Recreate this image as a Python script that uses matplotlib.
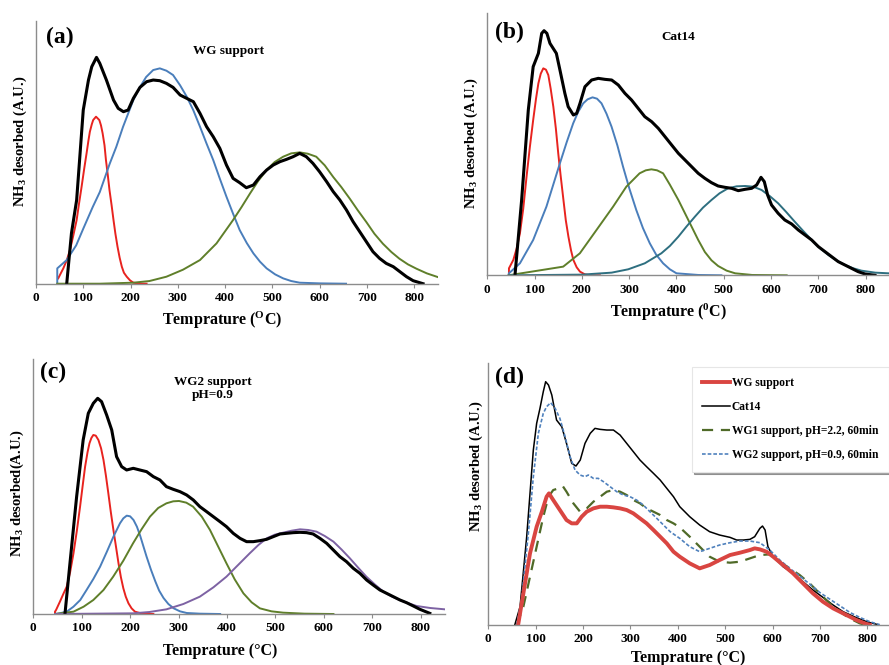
import matplotlib
matplotlib.use('Agg')
import matplotlib.pyplot as plt

plt.rcParams['font.family'] = ['Liberation Serif', 'DejaVu Serif']
plt.rcParams['font.weight'] = 'bold'
plt.rcParams['mathtext.fontset'] = 'custom'
plt.rcParams['mathtext.rm'] = 'Liberation Serif:bold'
plt.rcParams['mathtext.bf'] = 'Liberation Serif:bold'
plt.rcParams['mathtext.it'] = 'Liberation Serif:italic:bold'

# ---------------- Panel (a): WG support ----------------
a_black_T = [65, 75, 86, 100, 111, 118, 128, 135, 149, 164, 174, 185, 195, 206, 220, 234, 248, 262, 276, 290,
             305, 319, 333, 347, 361, 375, 389, 403, 417, 431, 445, 460, 474, 488, 502, 516, 530, 544, 558, 572,
             586, 600, 615, 629, 643, 657, 671, 685, 699, 713, 727, 741, 756, 770, 784, 798, 819]
a_black_y = [0, 151, 251, 521, 611, 651, 679, 661, 611, 551, 526, 516, 521, 556, 589, 606, 611, 609, 601, 589,
             566, 556, 546, 511, 471, 441, 406, 356, 316, 303, 288, 296, 321, 341, 356, 366, 373, 381, 391, 381,
             361, 336, 306, 276, 251, 221, 186, 156, 126, 96, 76, 61, 51, 36, 21, 9, 0]
a_red_T = [47, 52, 57.8, 65, 71.9, 79, 86, 91, 96.5, 102, 107, 111, 114, 118, 121, 127, 134, 137.5, 141, 145,
           148, 152, 155.5, 160, 164, 168, 172.5, 177, 181.6, 186, 192, 199, 206, 220, 234]
a_red_y = [16, 30, 46, 70, 101, 145, 191, 240, 291, 345, 391, 430, 456, 478, 491, 501, 491, 475, 451, 415,
           371, 325, 281, 235, 191, 150, 111, 78, 51, 33, 21, 10, 3, 0, 0]
a_blue_T = [45, 45, 65, 85, 100, 120, 135, 156, 170, 184, 206, 220, 233, 248, 262, 276, 290, 305, 319, 333,
            347, 361, 375, 389, 403, 417, 431, 446, 460, 474, 488, 506, 523, 540, 558, 600, 656]
a_blue_y = [0, 46, 71, 115, 165, 230, 275, 360, 411, 470, 551, 590, 620, 641, 646, 639, 626, 595, 561, 520,
            471, 420, 371, 315, 261, 210, 161, 122, 91, 66, 46, 28, 16, 8, 3, 1, 0]
a_green_T = [45, 135, 206, 240, 276, 311, 347, 382, 417, 435, 453, 470, 488, 505, 523, 540, 558, 575, 593, 611,
             629, 646, 664, 681, 699, 716, 734, 752, 769, 787, 805, 827, 850]
a_green_y = [0, 0, 3, 8, 21, 42, 71, 121, 191, 230, 271, 308, 341, 365, 381, 391, 394, 390, 381, 355,
             320, 290, 255, 220, 185, 150, 120, 95, 75, 58, 45, 31, 20]

# ---------------- Panel (b): Cat14 ----------------
b_black_T = [58.5, 72.6, 86.7, 97, 108, 115, 120, 126, 132.5, 146, 153.6, 164, 171, 182, 189, 196, 206.5, 220.6,
             234.7, 248.8, 263, 277, 291, 305, 319, 333, 347.5, 361.6, 375.7, 389.8, 404, 418, 432, 446, 460, 474,
             488, 502.5, 516.6, 530.7, 545, 559, 569.5, 578.7, 585.7, 592.7, 601, 615, 629, 643.5, 657.6, 671.7,
             685.8, 700, 714, 728, 742, 756, 770, 784, 798.5, 819.7]
b_black_y = [0, 226, 496, 626, 666, 726, 734, 726, 696, 666, 616, 546, 506, 481, 486, 516, 566, 586,
             591, 588, 586, 571, 546, 526, 501, 476, 461, 441, 416, 391, 366, 346, 326, 306, 291, 278,
             268, 264, 261, 254, 258, 261, 271, 294, 281, 241, 211, 186, 166, 154, 136, 121,
             106, 86, 71, 56, 41, 31, 21, 11, 4, 0]
b_red_T = [45.8, 45.8, 55, 62, 69, 76, 83, 90, 97, 103, 108, 113, 118.4, 124, 129, 134, 139.6, 145, 150, 155,
           161, 166, 171.5, 177, 182, 189, 196, 206, 217, 238]
b_red_y = [0, 21, 46, 80, 126, 200, 296, 385, 466, 530, 576, 605, 621, 617, 601, 560, 506, 440, 366, 300,
           226, 165, 116, 75, 46, 24, 11, 3, 0, 0]
b_blue_T = [45.8, 69, 97, 125, 153.5, 168, 181.6, 192, 202.8, 212, 222.5, 232, 241.5, 252, 262.7, 275, 287, 300,
            315, 329, 343.6, 357, 371.7, 386, 400, 446, 495]
b_blue_y = [6, 36, 106, 206, 336, 400, 456, 490, 516, 528, 534, 530, 516, 485, 446, 390, 326, 262,
            196, 142, 96, 62, 36, 18, 6, 1, 0]
b_green_T = [45, 160.5, 195.7, 230.9, 266, 294, 322, 335, 347, 359, 371.7, 386, 404, 418, 432, 446, 460, 474,
             488, 506, 524, 560, 633]
b_green_y = [0, 26, 66, 136, 206, 266, 306, 315, 318, 315, 306, 272, 226, 186, 146, 106, 70, 45,
             28, 14, 6, 1, 0]
b_teal_T = [45, 200, 263, 298, 333, 368, 386, 404, 421, 439, 456, 474, 491, 509, 527, 545, 562, 580, 597, 615,
            632, 650, 668, 686, 703, 721, 738, 756, 774, 791, 820, 848]
b_teal_y = [0, 2, 8, 18, 36, 66, 88, 116, 146, 176, 203, 226, 246, 261, 267, 268, 266, 256, 238, 216,
            190, 161, 133, 106, 82, 61, 45, 31, 21, 14, 8, 6]

# ---------------- Panel (c): WG2 support pH=0.9 ----------------
c_black_T = [65.4, 75.7, 89.5, 103, 113.6, 124, 133, 141, 151.5, 162, 172, 182.5, 192.8, 206.5, 220, 234, 248,
             261.6, 275, 289, 303, 316.7, 330.5, 344, 358, 371.8, 385.6, 399, 413, 427, 440.6, 454.4, 468, 482,
             495.7, 509.5, 523, 537, 551, 564.6, 578, 592, 606, 619.7, 633.4, 647, 661, 674.7, 688.5, 702, 716,
             729.8, 743.6, 757.4, 771, 785, 798.7, 819]
c_black_y = [0, 152, 352, 522, 602, 632, 647, 637, 597, 552, 472, 442, 432, 437, 432, 427, 412,
             402, 382, 374, 367, 357, 342, 322, 307, 292, 277, 262, 242, 227, 217, 217, 220, 224,
             232, 240, 242, 244, 245, 244, 240, 227, 212, 192, 172, 157, 137, 122, 102, 87, 72,
             62, 52, 42, 34, 24, 14, 2]
c_red_T = [44.8, 44.8, 47, 55, 62, 69, 76, 83, 90, 96.6, 102, 107, 112, 116, 120, 124, 129, 134.5, 140, 145,
           150, 155, 160, 165.5, 171, 176, 181, 186, 191, 196.6, 203, 210, 225, 248]
c_red_y = [0, 7, 12, 37, 60, 82, 125, 182, 250, 322, 385, 442, 485, 512, 528, 537, 535, 522, 497, 462,
           415, 362, 307, 252, 200, 152, 110, 77, 52, 32, 17, 7, 1, 0]
c_blue_T = [45, 55, 70, 83, 97, 110, 124, 138, 152, 165.5, 179, 186, 193, 200, 207, 214, 220.7, 227, 234, 243,
            252, 260, 269, 279, 290, 303, 317, 344, 386]
c_blue_y = [0, 2, 8, 22, 42, 72, 105, 142, 187, 232, 272, 287, 295, 293, 282, 262, 235, 205, 172, 133,
            98, 70, 48, 30, 17, 8, 3, 1, 0]
c_green_T = [45, 83, 104, 124, 145, 165, 186, 206, 224, 241, 258, 275, 289, 301, 316, 330, 348, 365, 382, 399,
             416, 434, 451, 468, 492, 516, 560, 620]
c_green_y = [0, 7, 22, 42, 72, 112, 160, 212, 255, 292, 318, 332, 338, 339, 334, 322, 292, 252, 202, 152,
             104, 62, 35, 17, 8, 4, 1, 0]
c_purple_T = [45, 206, 240, 275, 310, 344, 372, 399, 423, 447, 465, 482, 499, 516, 534, 551, 568, 585, 602, 620,
              637, 654, 671, 688, 706, 723, 740, 757, 775, 792, 820, 850]
c_purple_y = [0, 2, 6, 14, 30, 52, 80, 112, 147, 182, 207, 227, 238, 244, 250, 254, 252, 247, 234, 217,
              193, 167, 139, 112, 88, 67, 53, 42, 32, 24, 18, 14]

# ---------------- Panel (d): comparison ----------------
d_cat14_T = [56, 67, 81, 95, 102, 109, 116, 121, 127, 134, 144, 155, 165, 176, 185, 194, 204, 215, 225, 236,
             250, 264, 278, 292, 306, 320, 334, 348.5, 362.6, 376.6, 390.7, 404, 425, 446, 467, 488, 510, 524,
             538, 552, 562, 573, 578.5, 584, 590, 601, 622, 643, 664, 685, 706, 727.5, 748.6, 776.7, 798, 822.4]
d_cat14_y = [0, 54, 264, 524, 604, 649, 699, 729, 719, 689, 614, 594, 544, 484, 476, 494, 544, 574, 589, 586,
             584, 584, 569, 544, 519, 494, 474, 454, 434, 409, 384, 354, 324, 299, 279, 269, 262, 254,
             254, 256, 264, 289, 296, 284, 234, 204, 174, 154, 129, 104, 82, 59, 39, 21, 9, 0]
d_wg_T = [63, 74, 88, 102, 113, 123, 128, 137, 151, 165, 176, 186.6, 197, 207.7, 221.8, 236, 250, 264, 278, 292,
          306, 320, 334, 348.5, 362.6, 376.6, 390.7, 404, 425, 446, 467, 488, 510, 531, 552, 562, 573, 587, 601,
          622, 643, 664, 685, 706, 727.5, 748.6, 776.7, 798, 805]
d_wg_y = [0, 94, 214, 294, 339, 384, 394, 374, 344, 314, 304, 304, 324, 339, 349, 354, 354, 352, 349, 344,
          334, 319, 304, 284, 264, 244, 219, 204, 184, 169, 179, 194, 209, 216, 224, 229, 226, 219, 204,
          179, 154, 124, 94, 69, 49, 34, 14, 2, 0]
d_wg1_T = [60, 74, 88, 102, 116, 127, 137, 148, 157, 165, 179.5, 193.6, 207.7, 221.8, 236, 250, 264, 278, 292,
           306, 320, 334, 348.5, 362.6, 376.6, 390.7, 404, 425, 446, 467, 488, 510, 531, 552, 573, 594, 615, 636,
           657, 678, 699, 720, 741.5, 762.6, 783.7, 794]
d_wg1_y = [0, 54, 144, 234, 324, 384, 404, 409, 416, 399, 364, 339, 349, 369, 384, 399, 404, 399, 389,
           374, 364, 349, 339, 329, 314, 304, 292, 264, 234, 204, 189, 186, 189, 199, 209, 211, 189, 169,
           149, 124, 94, 64, 39, 19, 4, 0]
d_wg2_T = [60, 70, 84.5, 95, 105.6, 116, 123, 131.6, 141, 151, 162, 172.5, 183, 193.6, 204, 211, 221.8, 232, 243,
           257, 271, 285, 299, 313, 327, 341, 355.5, 369.6, 383.7, 404, 425, 446, 467, 488, 510, 531, 552, 573,
           594, 615, 636, 657, 678, 699, 720, 741.5, 762.6, 783.7, 805, 826]
d_wg2_y = [0, 74, 274, 444, 574, 634, 654, 666, 649, 619, 564, 504, 464, 449, 444, 449, 439, 439, 429,
           414, 399, 389, 384, 374, 359, 339, 319, 299, 279, 259, 234, 219, 229, 239, 246, 251, 251, 246,
           224, 194, 169, 146, 122, 97, 77, 57, 37, 22, 9, 0]

x_ticks = [0, 100, 200, 300, 400, 500, 600, 700, 800]
legend_labels = ['WG support', 'Cat14', 'WG1 support, pH=2.2, 60min', 'WG2 support, pH=0.9, 60min']

W, H = 889, 665
fig = plt.figure(figsize=(W / 100, H / 100), dpi=100)
fig.patch.set_facecolor('white')

RED = '#e8231f'
BLUE = '#4a7ebb'
GREEN = '#5f7f2a'
TEAL = '#2e6f80'
PURPLE = '#7d62a3'
SPINE = '#8c8c8c'


def make_axes(left, bottom, right, top, xmax, ymax):
    ax = fig.add_axes([left / W, 1 - bottom / H, (right - left) / W, (bottom - top) / H])
    ax.set_xlim(0, xmax)
    ax.set_ylim(0, ymax)
    for s in ['top', 'right']:
        ax.spines[s].set_visible(False)
    for s in ['left', 'bottom']:
        ax.spines[s].set_color(SPINE)
        ax.spines[s].set_linewidth(1.0)
    ax.set_yticks([])
    ax.set_xticks(x_ticks)
    ax.set_xticklabels([str(t) for t in x_ticks])
    ax.tick_params(axis='x', length=3, color=SPINE, labelsize=9.5, pad=3)
    for lab in ax.get_xticklabels():
        lab.set_fontweight('bold')
    return ax


def labels(ax, ylab, yx, yy, xlab, xx, xy, tag, tx, ty):
    ax.set_ylabel(ylab, fontsize=10.5, fontweight='bold', va='center', ha='center')
    ax.yaxis.set_label_coords(yx, yy)
    ax.set_xlabel(xlab, fontsize=11.5, fontweight='bold', va='center', ha='center')
    ax.xaxis.set_label_coords(xx, xy)
    ax.text(tx, ty, tag, transform=ax.transAxes, fontsize=17, fontweight='bold', ha='center', va='center')


# (a)
ax = make_axes(36, 283.7, 437.7, 20.7, 850, 789)
ax.plot(a_red_T, a_red_y, color=RED, lw=1.4)
ax.plot(a_blue_T, a_blue_y, color=BLUE, lw=1.4)
ax.plot(a_green_T, a_green_y, color=GREEN, lw=1.4)
ax.plot(a_black_T, a_black_y, color='black', lw=2.2)
labels(ax, r'NH$_3$ desorbed (A.U.)', -0.04, 0.54, r'Temprature ($^{\mathrm{O}}$C)', 0.463, -0.138,
       '(a)', 0.06, 0.938)
ax.text(0.478, 0.885, 'WG support', transform=ax.transAxes, fontsize=9.5, fontweight='bold', ha='center', va='center')

# (b)
ax = make_axes(487.3, 275.3, 889.3, 12.7, 850, 788)
ax.plot(b_red_T, b_red_y, color=RED, lw=1.4)
ax.plot(b_blue_T, b_blue_y, color=BLUE, lw=1.4)
ax.plot(b_green_T, b_green_y, color=GREEN, lw=1.4)
ax.plot(b_teal_T, b_teal_y, color=TEAL, lw=1.4)
ax.plot(b_black_T, b_black_y, color='black', lw=2.2)
labels(ax, r'NH$_3$ desorbed (A.U.)', -0.039, 0.504, r'Temprature ($^{0}$C)', 0.45, -0.14,
       '(b)', 0.056, 0.923)
ax.text(0.474, 0.909, 'Cat14', transform=ax.transAxes, fontsize=9.5, fontweight='bold', ha='center', va='center')

# (c)
ax = make_axes(33.3, 614, 444.8, 359.3, 850, 764)
ax.plot(c_red_T, c_red_y, color=RED, lw=1.4)
ax.plot(c_blue_T, c_blue_y, color=BLUE, lw=1.4)
ax.plot(c_green_T, c_green_y, color=GREEN, lw=1.4)
ax.plot(c_purple_T, c_purple_y, color=PURPLE, lw=1.4)
ax.plot(c_black_T, c_black_y, color='black', lw=2.2)
labels(ax, r'NH$_3$ desorbed(A.U.)', -0.04, 0.475, 'Temprature (°C)', 0.454, -0.145,
       '(c)', 0.048, 0.947)
ax.text(0.437, 0.885, 'WG2 support\npH=0.9', transform=ax.transAxes, fontsize=9.5, fontweight='bold',
        ha='center', va='center', linespacing=1.1)

# (d)
ax = make_axes(488.3, 624.7, 888.8, 362.7, 845, 786)
l_cat, = ax.plot(d_cat14_T, d_cat14_y, color='black', lw=1.1)
l_wg1, = ax.plot(d_wg1_T, d_wg1_y, color='#4f6a28', lw=1.6, ls=(0, (5, 3.5)))
l_wg2, = ax.plot(d_wg2_T, d_wg2_y, color='#4f81bd', lw=1.2, ls=(0, (2.2, 1.2)))
l_wg, = ax.plot(d_wg_T, d_wg_y, color='#d94541', lw=2.8)
labels(ax, r'NH$_3$ desorbed (A.U.)', -0.029, 0.605, 'Temprature (°C)', 0.4986, -0.127,
       '(d)', 0.054, 0.942)
leg = ax.legend([l_wg, l_cat, l_wg1, l_wg2], legend_labels, loc='upper right', bbox_to_anchor=(1.0, 0.985),
                frameon=True, shadow=True, fancybox=False, fontsize=8.3, handlelength=2.4,
                handletextpad=0.2, labelspacing=1.05, borderpad=0.9, borderaxespad=0.0)
leg.get_frame().set_edgecolor('#e6e6e6')
leg.get_frame().set_linewidth(0.8)
for t in leg.get_texts():
    t.set_fontweight('bold')

fig.savefig('out.png', dpi=100, facecolor='white')
